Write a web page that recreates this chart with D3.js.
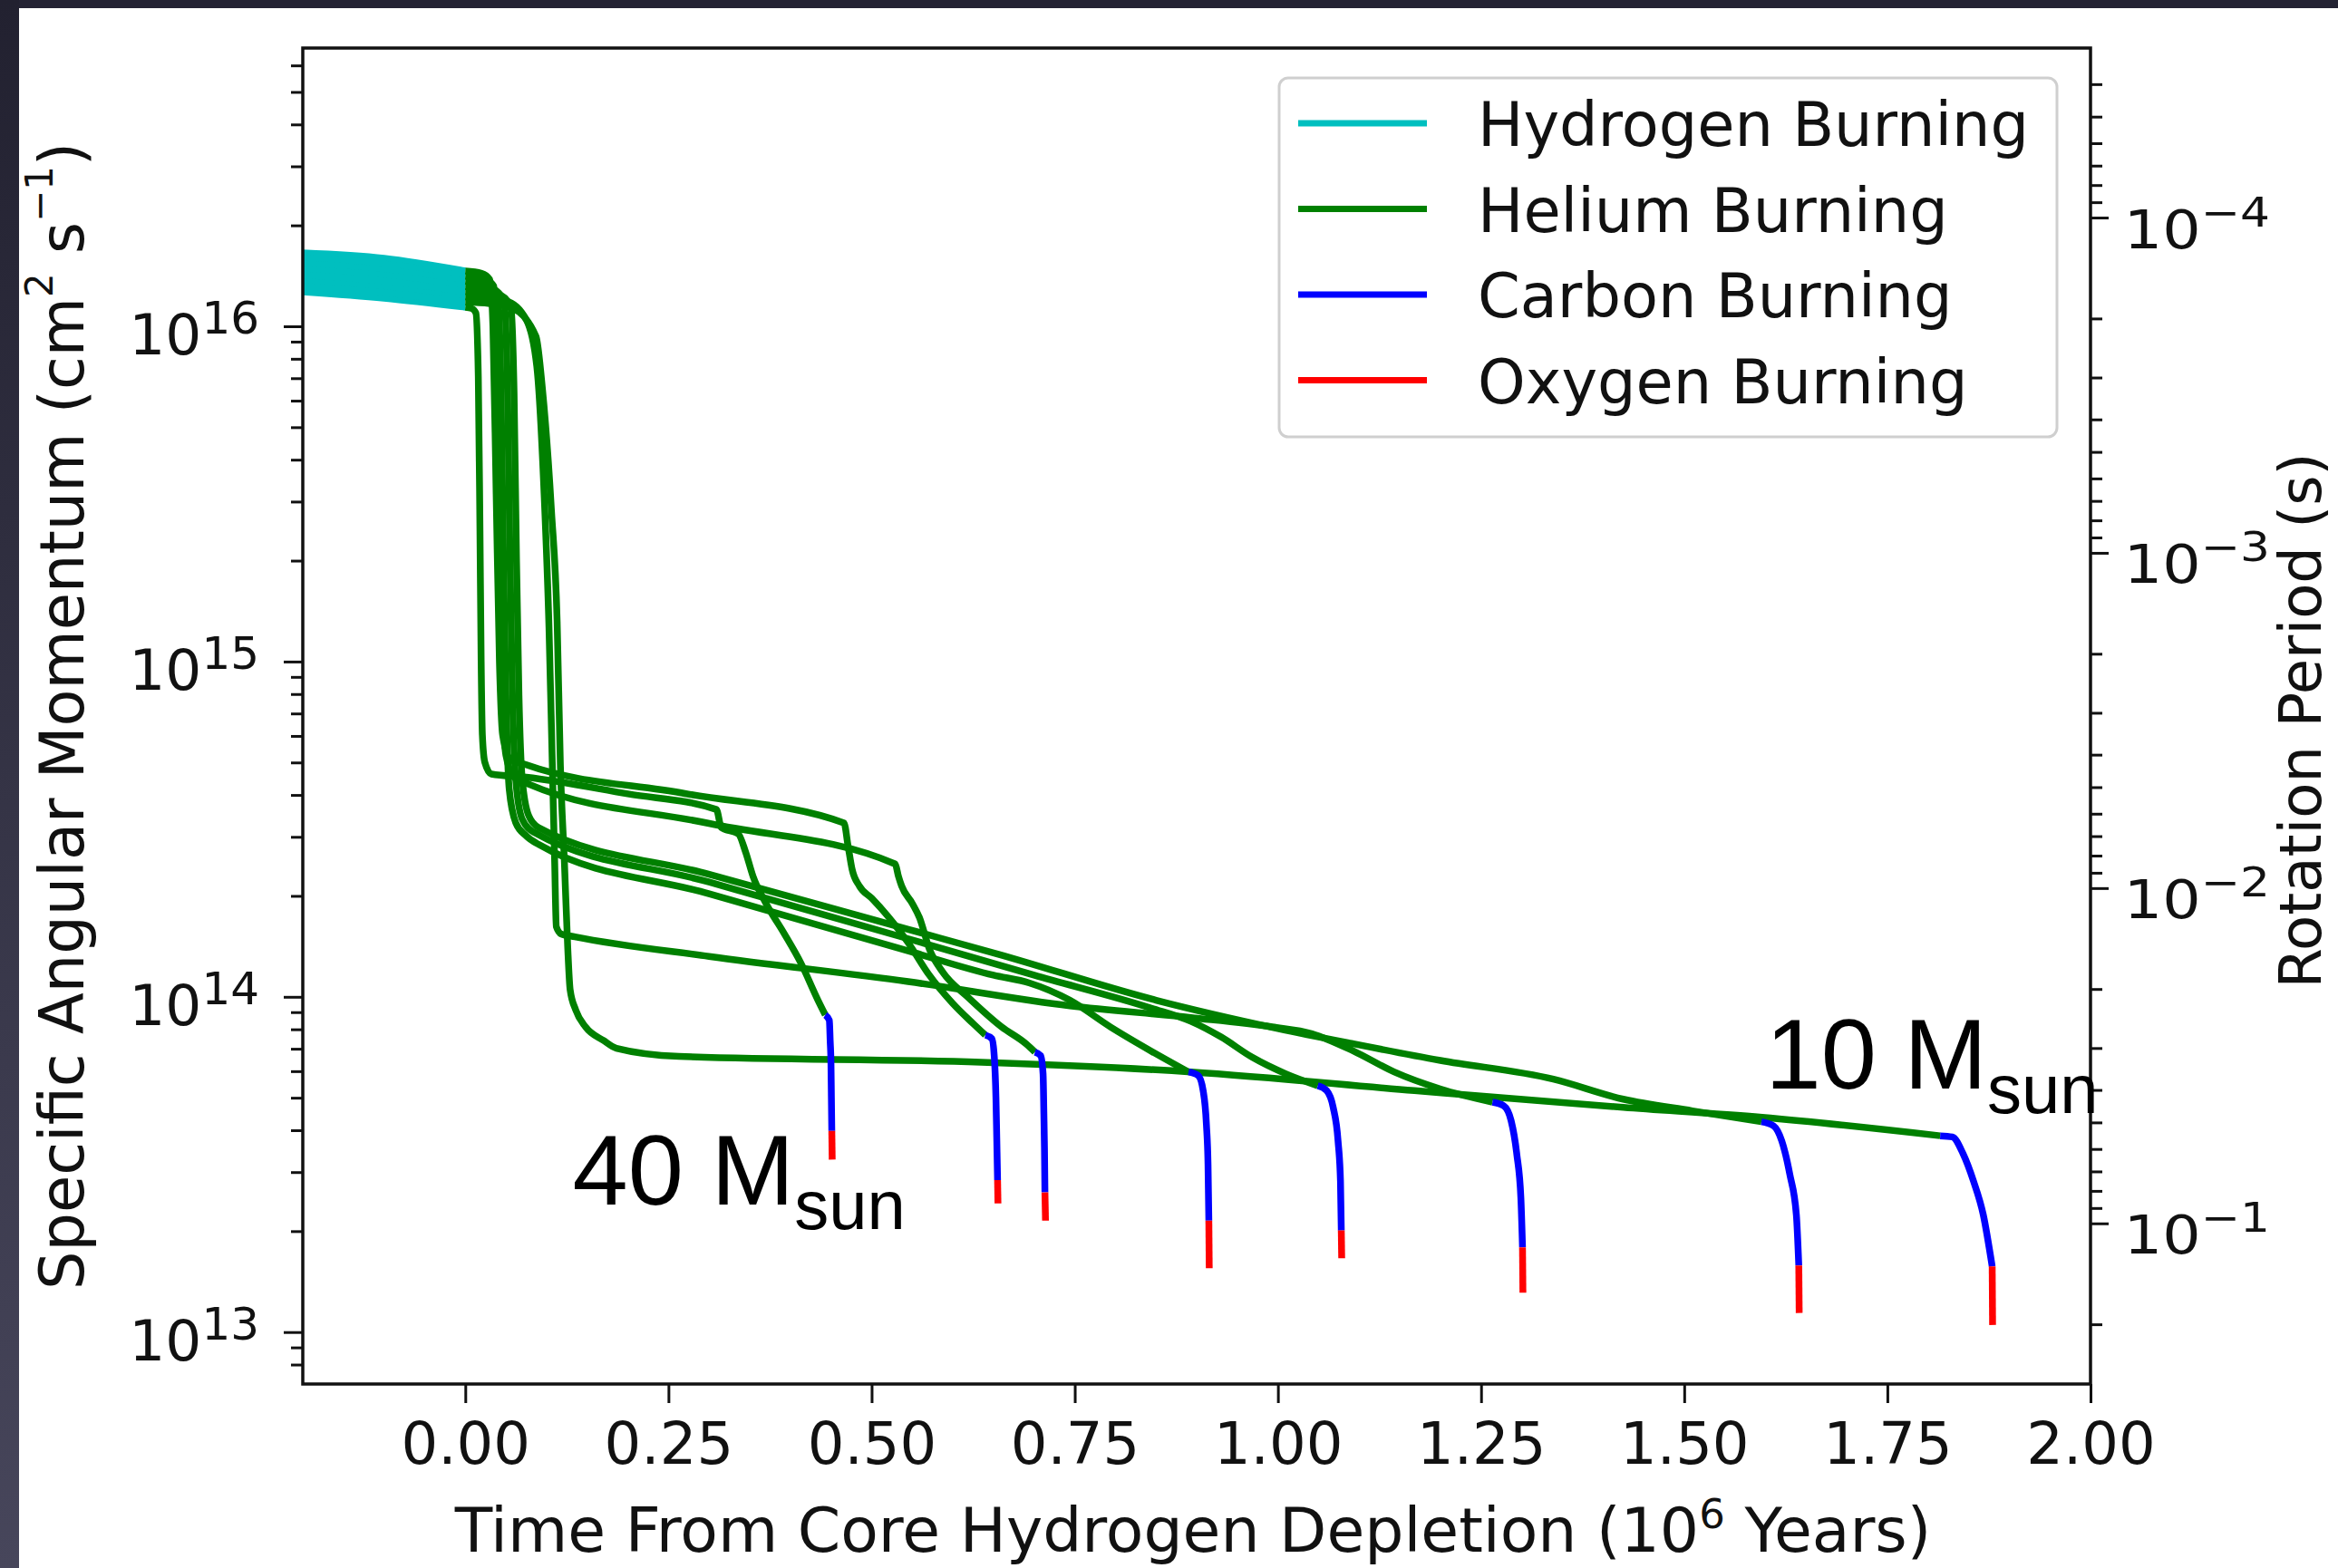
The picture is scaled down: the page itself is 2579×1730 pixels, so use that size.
<!DOCTYPE html>
<html>
<head>
<meta charset="utf-8">
<script src="https://cdn.jsdelivr.net/npm/d3@7"></script>
<style>
  html, body { margin: 0; padding: 0; background: #fff; }
  svg { display: block; }
  text { font-family: "DejaVu Sans", "Noto Sans", sans-serif; fill: #111; }
</style>
</head>
<body>
<svg id="chart" width="2579" height="1730"></svg>
<script>
// ---------------------------------------------------------------
// Axis settings and tick values
// ---------------------------------------------------------------
const xDomain = [-0.2, 2.0];                 // 10^6 years from core H depletion
const yDomain = [7.0e12, 6.76e16];           // specific angular momentum, cm^2 s^-1
const periodConstant = 2.11e12;              // rotation period P = K / j  (s)
const xTicks = [0, 0.25, 0.5, 0.75, 1.0, 1.25, 1.5, 1.75, 2.0];
const jDecades = [1e13, 1e14, 1e15, 1e16];
const periodDecades = [1e-1, 1e-2, 1e-3, 1e-4];

const phaseNames = ["Hydrogen Burning", "Helium Burning", "Carbon Burning", "Oxygen Burning"];
const phaseColors = ["#00bfbf", "#008000", "#0000ff", "#ff0000"];

// Model labels: [mass, time, j at label baseline]
const massLabels = [
  { mass: "40", t: 0.132, j: 2.40e13 },
  { mass: "10", t: 1.600, j: 5.33e13 }
];

// ---------------------------------------------------------------
// Evolutionary tracks, one row per stellar model (40 -> 10 Msun),
// points are [time, j]
// ---------------------------------------------------------------
const hydrogenBurning = [
  [[-0.2, 1.267e16], [-0.1, 1.213e16], [0, 1.140e16]],
  [[-0.2, 1.655e16], [-0.1, 1.595e16], [0, 1.462e16]],
  [[-0.2, 1.594e16], [-0.1, 1.534e16], [0, 1.411e16]],
  [[-0.2, 1.534e16], [-0.1, 1.475e16], [0, 1.362e16]],
  [[-0.2, 1.476e16], [-0.1, 1.418e16], [0, 1.314e16]],
  [[-0.2, 1.367e16], [-0.1, 1.312e16], [0, 1.224e16]],
  [[-0.2, 1.421e16], [-0.1, 1.364e16], [0, 1.268e16]],
  [[-0.2, 1.316e16], [-0.1, 1.261e16], [0, 1.181e16]]
];

const heliumBurning = [
  [[0, 1.140e16], [0.008, 1.130e16], [0.013, 1.096e16], [0.016, 7.08e15], [0.018, 2.51e15],
   [0.0195, 1.00e15], [0.021, 6.03e14], [0.024, 5.01e14], [0.032, 4.62e14], [0.075, 4.52e14],
   [0.2, 4.03e14], [0.309, 3.62e14], [0.315, 3.20e14], [0.336, 3.06e14], [0.345, 2.70e14],
   [0.354, 2.29e14], [0.37, 1.90e14], [0.392, 1.55e14], [0.413, 1.26e14], [0.434, 9.77e13],
   [0.443, 8.83e13]],
  [[0, 1.462e16], [0.02, 1.439e16], [0.03, 1.380e16], [0.034, 1.000e16], [0.038, 3.16e15],
   [0.042, 1.00e15], [0.046, 6.03e14], [0.055, 5.13e14], [0.075, 4.92e14], [0.27, 4.04e14],
   [0.466, 3.30e14], [0.471, 2.82e14], [0.476, 2.40e14], [0.485, 2.14e14], [0.5, 1.97e14],
   [0.52, 1.74e14], [0.545, 1.45e14], [0.57, 1.17e14], [0.6, 9.55e13], [0.625, 8.32e13],
   [0.64, 7.69e13]],
  [[0, 1.411e16], [0.025, 1.380e16], [0.035, 1.318e16], [0.039, 7.94e15], [0.042, 2.51e15],
   [0.045, 8.91e14], [0.05, 5.25e14], [0.06, 4.52e14], [0.08, 4.29e14], [0.3, 3.29e14],
   [0.529, 2.49e14], [0.533, 2.29e14], [0.537, 2.14e14], [0.55, 1.90e14], [0.559, 1.72e14],
   [0.571, 1.39e14], [0.588, 1.18e14], [0.618, 1.00e14], [0.66, 8.13e13], [0.69, 7.24e13],
   [0.701, 6.84e13]],
  [[0, 1.362e16], [0.03, 1.318e16], [0.04, 1.230e16], [0.044, 6.31e15], [0.047, 2.00e15],
   [0.05, 7.94e14], [0.054, 4.17e14], [0.062, 3.31e14], [0.075, 3.02e14], [0.09, 2.85e14],
   [0.3, 2.03e14], [0.545, 1.37e14], [0.65, 1.16e14], [0.694, 1.10e14], [0.744, 9.77e13],
   [0.794, 8.13e13], [0.844, 6.89e13], [0.89, 5.97e13]],
  [[0, 1.314e16], [0.035, 1.288e16], [0.048, 1.175e16], [0.052, 6.31e15], [0.055, 2.00e15],
   [0.058, 7.94e14], [0.062, 4.47e14], [0.07, 3.39e14], [0.085, 3.09e14], [0.3, 2.20e14],
   [0.545, 1.49e14], [0.7, 1.16e14], [0.844, 9.25e13], [0.893, 8.45e13], [0.93, 7.59e13],
   [0.968, 6.61e13], [1.01, 5.89e13], [1.049, 5.43e13]],
  [[0, 1.224e16], [0.05, 1.189e16], [0.075, 1.047e16], [0.088, 7.59e15], [0.097, 3.16e15],
   [0.103, 1.26e15], [0.107, 5.01e14], [0.11, 2.51e14], [0.112, 1.62e14], [0.118, 1.54e14],
   [0.135, 1.51e14], [0.3, 1.32e14], [0.545, 1.11e14], [0.744, 9.40e13], [0.893, 8.67e13],
   [0.993, 8.13e13], [1.042, 7.76e13], [1.093, 6.89e13], [1.143, 5.97e13], [1.2, 5.31e13],
   [1.264, 4.85e13]],
  [[0, 1.268e16], [0.04, 1.245e16], [0.056, 1.148e16], [0.06, 6.31e15], [0.063, 2.00e15],
   [0.066, 7.94e14], [0.07, 4.47e14], [0.078, 3.47e14], [0.09, 3.20e14], [0.3, 2.32e14],
   [0.545, 1.59e14], [0.656, 1.34e14], [0.85, 9.77e13], [1.0, 8.04e13], [1.093, 7.24e13],
   [1.2, 6.46e13], [1.339, 5.68e13], [1.425, 4.95e13], [1.51, 4.57e13], [1.595, 4.24e13]],
  [[0, 1.181e16], [0.03, 1.169e16], [0.057, 1.135e16], [0.087, 9.33e15], [0.095, 6.46e15],
   [0.106, 2.82e15], [0.113, 1.32e15], [0.117, 4.90e14], [0.122, 2.51e14], [0.126, 1.41e14],
   [0.129, 1.05e14], [0.136, 9.12e13], [0.148, 8.13e13], [0.17, 7.41e13], [0.186, 7.02e13],
   [0.263, 6.64e13], [0.635, 6.38e13], [0.893, 5.97e13], [1.168, 5.25e13], [1.425, 4.68e13],
   [1.596, 4.37e13], [1.815, 3.85e13]]
];

const carbonBurning = [
  [[0.443, 8.83e13], [0.448, 8.51e13], [0.449, 7.41e13], [0.450, 6.31e13], [0.4505, 5.01e13], [0.451, 3.98e13]],
  [[0.640, 7.69e13], [0.648, 7.50e13], [0.651, 6.61e13], [0.653, 5.01e13], [0.654, 3.80e13], [0.655, 2.84e13]],
  [[0.701, 6.84e13], [0.708, 6.68e13], [0.711, 5.89e13], [0.712, 4.47e13], [0.7127, 3.55e13], [0.7133, 2.61e13]],
  [[0.890, 5.97e13], [0.902, 5.82e13], [0.908, 5.25e13], [0.912, 4.17e13], [0.914, 3.16e13], [0.915, 2.15e13]],
  [[1.049, 5.43e13], [1.060, 5.25e13], [1.068, 4.68e13], [1.074, 3.72e13], [1.077, 2.82e13], [1.078, 2.01e13]],
  [[1.264, 4.85e13], [1.278, 4.73e13], [1.287, 4.27e13], [1.294, 3.39e13], [1.299, 2.51e13], [1.301, 1.79e13]],
  [[1.595, 4.24e13], [1.610, 4.12e13], [1.620, 3.72e13], [1.630, 2.95e13], [1.638, 2.24e13], [1.641, 1.58e13]],
  [[1.815, 3.85e13], [1.830, 3.82e13], [1.843, 3.41e13], [1.856, 2.82e13], [1.868, 2.24e13], [1.879, 1.57e13]]
];

const oxygenBurning = [
  [[0.451, 3.98e13], [0.4515, 3.27e13]],
  [[0.655, 2.84e13], [0.6555, 2.42e13]],
  [[0.7133, 2.61e13], [0.714, 2.15e13]],
  [[0.915, 2.15e13], [0.9155, 1.55e13]],
  [[1.078, 2.01e13], [1.0785, 1.66e13]],
  [[1.301, 1.79e13], [1.3015, 1.31e13]],
  [[1.641, 1.58e13], [1.6415, 1.14e13]],
  [[1.879, 1.57e13], [1.8795, 1.05e13]]
];

// ---------------------------------------------------------------
// Drawing
// ---------------------------------------------------------------
const W = 2579, H = 1730;
const plot = { left: 334, right: 2306, top: 53, bottom: 1527 };
const trackWidth = 7.5;
const svg = d3.select("#chart");

// page backdrop with the dark slide edge
const defs = svg.append("defs");
const edge = defs.append("linearGradient").attr("id", "edgeShade")
  .attr("x1", 0).attr("y1", 0).attr("x2", 0).attr("y2", 1);
edge.append("stop").attr("offset", "0%").attr("stop-color", "#222130");
edge.append("stop").attr("offset", "100%").attr("stop-color", "#47465b");
defs.append("clipPath").attr("id", "plotClip").append("rect")
  .attr("x", plot.left).attr("y", plot.top)
  .attr("width", plot.right - plot.left).attr("height", plot.bottom - plot.top);

svg.append("rect").attr("width", W).attr("height", H).attr("fill", "#ffffff");
svg.append("rect").attr("x", 0).attr("y", 0).attr("width", W).attr("height", 9).attr("fill", "#242333");
svg.append("rect").attr("x", 0).attr("y", 0).attr("width", 21).attr("height", H).attr("fill", "url(#edgeShade)");

const x = d3.scaleLinear().domain(xDomain).range([plot.left, plot.right]);
const y = d3.scaleLog().domain(yDomain).range([plot.bottom, plot.top]);
const yPeriod = d3.scaleLog()
  .domain([periodConstant / yDomain[0], periodConstant / yDomain[1]])
  .range([plot.bottom, plot.top]);

// tracks, drawn phase by phase
const line = d3.line().x(d => x(d[0])).y(d => y(d[1])).curve(d3.curveMonotoneX);
const trackLayer = svg.append("g").attr("clip-path", "url(#plotClip)");
[hydrogenBurning, heliumBurning, carbonBurning, oxygenBurning].forEach((tracks, i) => {
  trackLayer.append("g")
    .selectAll("path")
    .data(tracks)
    .join("path")
    .attr("d", line)
    .attr("fill", "none")
    .attr("stroke", phaseColors[i])
    .attr("stroke-width", trackWidth)
    .attr("stroke-linejoin", "round")
    .attr("stroke-linecap", "butt");
});

// ----- axes -----
function styleTicks(g) {
  g.select(".domain").remove();
  g.selectAll(".tick line").attr("stroke", "#111").attr("stroke-width", 3);
}
const isDecade = v => Math.abs(Math.log10(v) - Math.round(Math.log10(v))) < 1e-6;
const minorJ = y.ticks().filter(v => !isDecade(v))
  .filter(v => y(v) > plot.top + 6 && y(v) < plot.bottom - 6);
const minorP = yPeriod.ticks().filter(v => !isDecade(v))
  .filter(v => yPeriod(v) > plot.top + 6 && yPeriod(v) < plot.bottom - 6);

// left: specific angular momentum
svg.append("g").attr("transform", `translate(${plot.left},0)`)
  .call(d3.axisLeft(y).tickValues(minorJ).tickSize(13).tickSizeOuter(0).tickFormat(() => ""))
  .call(styleTicks);
const leftAxis = svg.append("g").attr("transform", `translate(${plot.left},0)`)
  .call(d3.axisLeft(y).tickValues(jDecades).tickSize(21).tickSizeOuter(0).tickPadding(27).tickFormat(() => ""))
  .call(styleTicks);
leftAxis.selectAll(".tick text").each(function (d) {
  const t = d3.select(this).text(null)
    .attr("dy", null).attr("y", 31)
    .attr("font-size", 63).attr("fill", "#111");
  t.append("tspan").text("10");
  t.append("tspan").attr("font-size", 50).attr("dy", -23).text(Math.round(Math.log10(d)));
});

// right: rotation period
svg.append("g").attr("transform", `translate(${plot.right},0)`)
  .call(d3.axisRight(yPeriod).tickValues(minorP).tickSize(13).tickSizeOuter(0).tickFormat(() => ""))
  .call(styleTicks);
const rightAxis = svg.append("g").attr("transform", `translate(${plot.right},0)`)
  .call(d3.axisRight(yPeriod).tickValues(periodDecades).tickSize(20).tickSizeOuter(0).tickPadding(12).tickFormat(() => ""))
  .call(styleTicks);
rightAxis.selectAll(".tick text").each(function (d) {
  const t = d3.select(this).text(null)
    .attr("dy", null).attr("y", 33)
    .attr("font-size", 58).attr("fill", "#222")
    .attr("transform", "scale(1.15,1)");
  t.append("tspan").text("10");
  t.append("tspan").attr("font-size", 45).attr("dy", -24)
    .text("\u2212" + Math.abs(Math.round(Math.log10(d))));
});

// bottom: time
const bottomAxis = svg.append("g").attr("transform", `translate(0,${plot.bottom})`)
  .call(d3.axisBottom(x).tickValues(xTicks).tickSize(21).tickSizeOuter(0).tickPadding(22).tickFormat(d3.format(".2f")))
  .call(styleTicks);
bottomAxis.selectAll(".tick text").attr("font-size", 64).attr("fill", "#111");

// spines
svg.append("rect")
  .attr("x", plot.left).attr("y", plot.top)
  .attr("width", plot.right - plot.left).attr("height", plot.bottom - plot.top)
  .attr("fill", "none").attr("stroke", "#111").attr("stroke-width", 3.5);

// axis titles
svg.append("text")
  .attr("x", 1316).attr("y", 1712)
  .attr("text-anchor", "middle").attr("font-size", 68)
  .call(t => {
    t.append("tspan").text("Time From Core Hydrogen Depletion (10");
    t.append("tspan").attr("font-size", 45).attr("dy", -26).text("6");
    t.append("tspan").attr("dy", 26).text(" Years)");
  });

svg.append("text")
  .attr("transform", "translate(92,790) rotate(-90)")
  .attr("text-anchor", "middle").attr("font-size", 67)
  .call(t => {
    t.append("tspan").text("Specific Angular Momentum (cm");
    t.append("tspan").attr("font-size", 42).attr("dy", -34).text("2");
    t.append("tspan").attr("dy", 34).text(" s");
    t.append("tspan").attr("font-size", 42).attr("dy", -34).text("\u22121");
    t.append("tspan").attr("dy", 34).text(")");
  });

svg.append("text")
  .attr("transform", "translate(2560,795) rotate(-90)")
  .attr("text-anchor", "middle").attr("font-size", 64)
  .text("Rotation Period (s)");

// legend
const legend = svg.append("g");
legend.append("rect")
  .attr("x", 1411).attr("y", 86).attr("width", 858).attr("height", 396)
  .attr("rx", 10).attr("fill", "#fff").attr("fill-opacity", 0.9)
  .attr("stroke", "#cfcfcf").attr("stroke-width", 3);
const rows = legend.selectAll("g.entry")
  .data(phaseNames)
  .join("g").attr("class", "entry")
  .attr("transform", (d, i) => `translate(0,${136 + i * 94.5})`);
rows.append("line")
  .attr("x1", 1432).attr("x2", 1574).attr("y1", 0).attr("y2", 0)
  .attr("stroke", (d, i) => phaseColors[i]).attr("stroke-width", 7);
rows.append("text")
  .attr("x", 1630).attr("y", 25)
  .attr("font-size", 67).attr("fill", "#111")
  .text(d => d);

// model mass labels
massLabels.forEach(m => {
  const t = svg.append("text")
    .attr("x", x(m.t)).attr("y", y(m.j))
    .attr("font-size", 110)
    .style("font-family", "'Liberation Sans', Arial, sans-serif")
    .style("fill", "#000");
  t.append("tspan").text(`${m.mass} M`);
  t.append("tspan").attr("font-size", 76).attr("dy", 27).text("sun");
});
</script>
</body>
</html>
